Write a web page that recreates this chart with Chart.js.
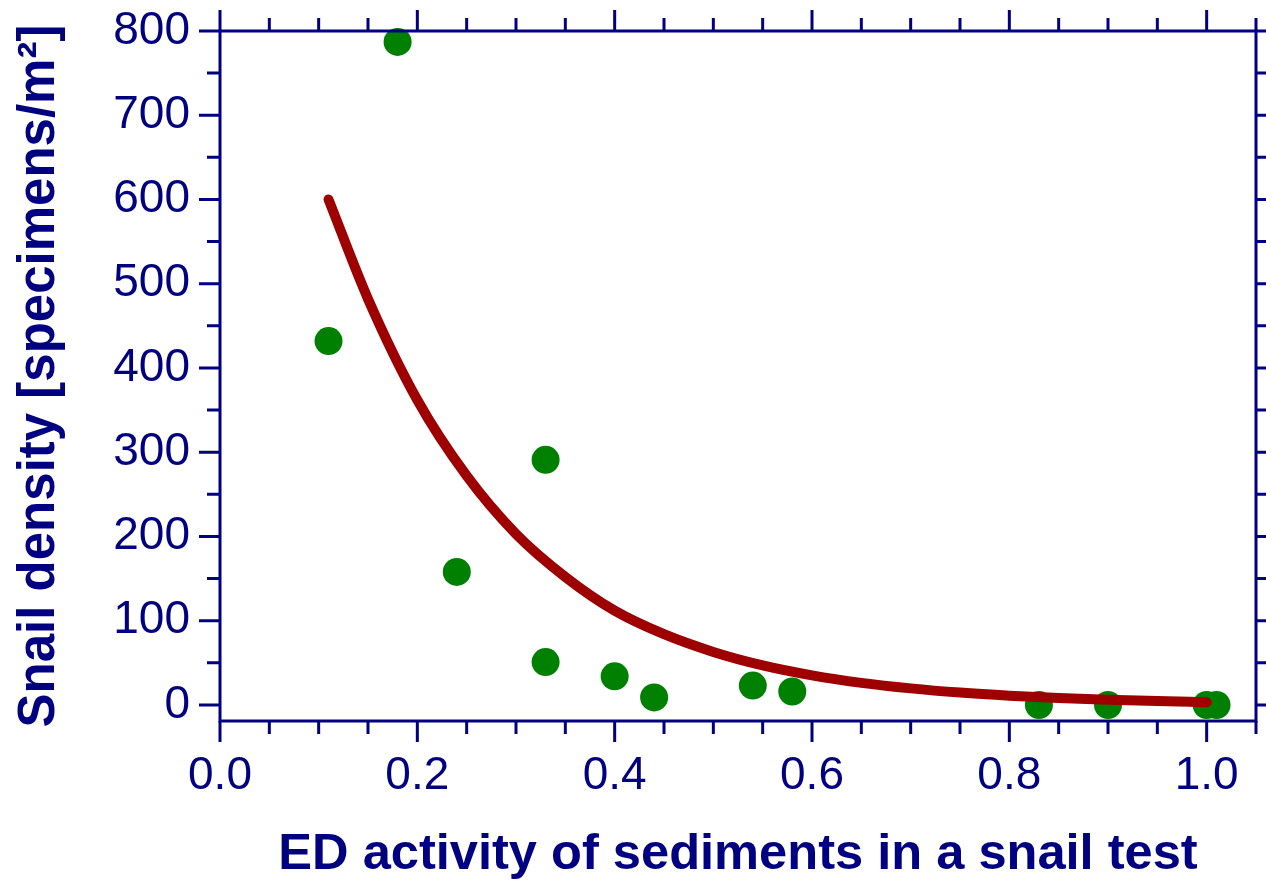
<!DOCTYPE html>
<html>
<head>
<meta charset="utf-8">
<title>Snail density vs ED activity</title>
<script src="https://cdn.jsdelivr.net/npm/chart.js@4/dist/chart.umd.min.js"></script>
<style>
  html, body { margin: 0; padding: 0; background: #ffffff; }
  #wrap { width: 1266px; height: 883px; }
</style>
</head>
<body>
<div id="wrap"><canvas id="c" width="1266" height="883"></canvas></div>
<script>
// Field samples: ED activity of sediment vs. snail density
const edActivity   = [0.11, 0.18, 0.24, 0.33, 0.33, 0.40, 0.44, 0.54, 0.58, 0.83, 0.90, 1.00, 1.01];
const snailDensity = [432, 787, 158, 291, 51, 34, 9, 23, 16, 0, 0, 0, 0];

// Fitted decay curve, sampled along its length
const fitActivity = [0.11, 0.15, 0.20, 0.25, 0.30, 0.35, 0.40, 0.45, 0.50, 0.55, 0.60, 0.65, 0.70, 0.75, 0.80, 0.85, 0.90, 0.95, 1.00];
const fitDensity  = [600, 482, 362, 272, 203, 152, 112, 84, 63, 47, 35.2, 26.3, 19.7, 14.7, 11.0, 8.2, 6.1, 4.6, 3.4];

// Axis tick labels
const xTickValues = [0.0, 0.2, 0.4, 0.6, 0.8, 1.0];
const yTickValues = [0, 100, 200, 300, 400, 500, 600, 700, 800];

const NAVY = '#000080';
const X_MIN = 0, X_MAX = 1.05, X_MINOR = 0.05;
const Y_MIN = -19, Y_MAX = 800, Y_MINOR = 50;

// Boxed frame with outward major/minor ticks on all four sides
const framePlugin = {
  id: 'frame',
  afterDatasetsDraw(chart) {
    const { ctx, chartArea: a, scales: { x, y } } = chart;
    ctx.save();
    ctx.strokeStyle = NAVY;
    ctx.lineWidth = 3;
    ctx.lineCap = 'butt';
    ctx.strokeRect(a.left, a.top, a.right - a.left, a.bottom - a.top);
    ctx.beginPath();
    for (let i = 0; i * X_MINOR <= X_MAX + 1e-9; i++) {
      const px = x.getPixelForValue(i * X_MINOR);
      const len = (i % 4 === 0) ? 21 : 13;
      ctx.moveTo(px, a.bottom); ctx.lineTo(px, a.bottom + len);
      ctx.moveTo(px, a.top);    ctx.lineTo(px, a.top - len);
    }
    for (let i = 0; i * Y_MINOR <= Y_MAX + 1e-9; i++) {
      const py = y.getPixelForValue(i * Y_MINOR);
      const len = (i % 2 === 0) ? 21 : 13;
      ctx.moveTo(a.left, py);  ctx.lineTo(a.left - len, py);
      ctx.moveTo(a.right, py); ctx.lineTo(a.right + len, py);
    }
    ctx.stroke();
    ctx.restore();
  }
};

const FAMILY = "'Liberation Sans', Arial, sans-serif";
const tickFont = { family: FAMILY, size: 46, lineHeight: 1 };

new Chart(document.getElementById('c'), {
  type: 'scatter',
  data: {
    datasets: [
      {
        label: 'fit',
        data: fitActivity.map((v, i) => ({ x: v, y: fitDensity[i] })),
        showLine: true,
        borderColor: '#9e0000',
        borderWidth: 10,
        borderCapStyle: 'round',
        borderJoinStyle: 'round',
        cubicInterpolationMode: 'monotone',
        pointRadius: 0,
        fill: false
      },
      {
        label: 'samples',
        data: edActivity.map((v, i) => ({ x: v, y: snailDensity[i] })),
        backgroundColor: '#008000',
        borderWidth: 0,
        pointRadius: 14,
        clip: false
      }
    ]
  },
  options: {
    responsive: false,
    animation: false,
    events: [],
    layout: { autoPadding: false, padding: { top: 31, right: 10, bottom: 0, left: 0 } },
    plugins: { legend: { display: false }, tooltip: { enabled: false } },
    scales: {
      x: {
        type: 'linear',
        min: X_MIN, max: X_MAX,
        grid: { display: false, drawTicks: false },
        border: { display: false },
        afterBuildTicks: s => { s.ticks = xTickValues.map(v => ({ value: v })); },
        afterFit: s => { s.height = 162; s.paddingLeft = 0; s.paddingRight = 0; },
        ticks: {
          color: NAVY, font: tickFont, padding: 32, maxRotation: 0, autoSkip: false,
          callback: v => Number(v).toFixed(1)
        },
        title: {
          display: true,
          text: 'ED activity of sediments in a snail test',
          color: NAVY,
          font: { family: FAMILY, size: 50.6, weight: 'bold', lineHeight: 1 },
          padding: { top: 0, bottom: 3 }
        }
      },
      y: {
        type: 'linear',
        min: Y_MIN, max: Y_MAX,
        grid: { display: false, drawTicks: false },
        border: { display: false },
        afterBuildTicks: s => { s.ticks = yTickValues.map(v => ({ value: v })); },
        afterFit: s => { s.width = 220; s.paddingTop = 0; s.paddingBottom = 0; },
        ticks: {
          color: NAVY, font: tickFont, padding: 30, autoSkip: false,
          callback: v => String(v)
        },
        title: {
          display: true,
          text: 'Snail density [specimens/m²]',
          color: NAVY,
          font: { family: FAMILY, size: 51, weight: 'bold', lineHeight: 1 },
          padding: { top: 14, bottom: 0 }
        }
      }
    }
  },
  plugins: [framePlugin]
});
</script>
</body>
</html>
